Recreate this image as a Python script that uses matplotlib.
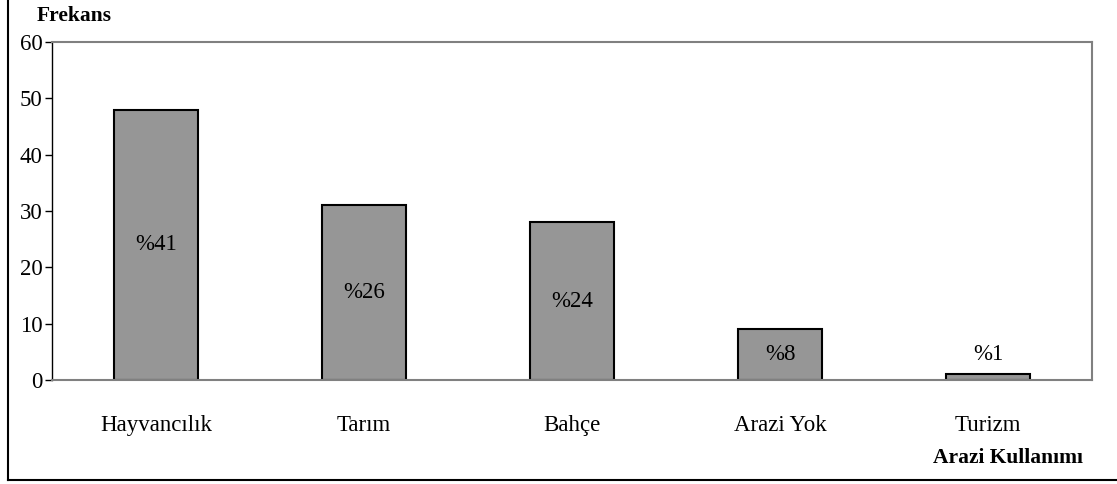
import matplotlib.pyplot as plt
from matplotlib.lines import Line2D

# arazi kullanımı verileri
kategoriler = ['Hayvancılık', 'Tarım', 'Bahçe', 'Arazi Yok', 'Turizm']
frekans = [48, 31, 28, 9, 1]
yuzde = ['%41', '%26', '%24', '%8', '%1']

plt.rcParams['font.family'] = ['Liberation Serif', 'DejaVu Serif']

fig = plt.figure(figsize=(11.17, 4.84), dpi=100)
ax = fig.add_axes([52 / 1117, 1 - 380 / 484, 1040 / 1117, 338 / 484])

x = range(len(kategoriler))
ax.bar(x, frekans, width=0.4, color='#969696', edgecolor='black', linewidth=1.5)

for i, (v, t) in enumerate(zip(frekans, yuzde)):
    if v < 5:
        ax.text(i, v + 3.5, t, ha='center', va='center', fontsize=16.5)
    else:
        ax.text(i, v / 2, t, ha='center', va='center', fontsize=16.5)

ax.set_xlim(-0.5, len(kategoriler) - 0.5)
ax.set_ylim(0, 60)
ax.set_yticks(range(0, 61, 10))
ax.set_xticks(list(x))
ax.set_xticklabels(kategoriler, fontsize=16.5)
ax.tick_params(axis='x', length=0, pad=25)
ax.tick_params(axis='y', length=5, width=1, direction='out', labelsize=16.5, pad=2)

ax.spines['left'].set_color('black')
ax.spines['left'].set_linewidth(1)
for s in ['top', 'right', 'bottom']:
    ax.spines[s].set_color('#808080')
    ax.spines[s].set_linewidth(1.5)

fig.text(37 / 1117, 1 - 16 / 484, 'Frekans', fontsize=15.5, fontweight='bold', va='center')
fig.text(1083 / 1117, 1 - 458 / 484, 'Arazi Kullanımı', fontsize=15.5, fontweight='bold',
         ha='right', va='center')

# dış çerçeve (sol ve alt)
fig.add_artist(Line2D([8 / 1117, 8 / 1117], [1 - 480 / 484, 1.0], color='black', lw=1.5))
fig.add_artist(Line2D([8 / 1117, 1.0], [1 - 480 / 484, 1 - 480 / 484], color='black', lw=1.5))

fig.savefig('out.png', dpi=100)
